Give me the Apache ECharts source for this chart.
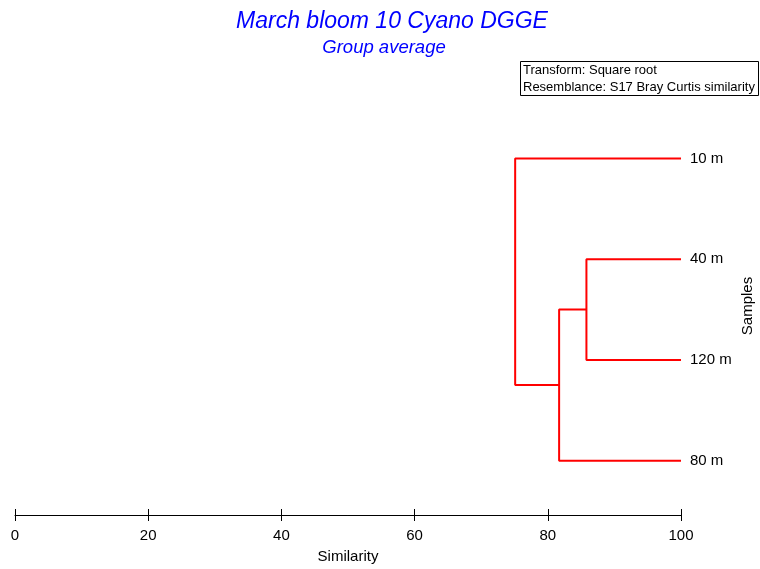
<!DOCTYPE html>
<html><head><meta charset="utf-8">
<script src="https://cdn.jsdelivr.net/npm/echarts@6/dist/echarts.min.js"></script>
<style>html,body{margin:0;padding:0;background:#fff}#c{width:760px;height:569px}</style>
</head><body><div id="c"></div>
<script>
// Leaves (top to bottom), all at similarity 100
var leaves = ['10 m', '40 m', '120 m', '80 m'];
// Merges: node ids 0..3 are leaves, merges get ids 4, 5, 6
var mergeLeft = [1, 4, 0];
var mergeRight = [2, 3, 5];
var mergeSim = [85.8, 81.7, 75.1];
var xTicks = [0, 20, 40, 60, 80, 100];

var nodeX = leaves.map(function(){ return 100; });
var nodeY = leaves.map(function(_, i){ return i; });
var series = [];
for (var m = 0; m < mergeSim.length; m++) {
  var a = mergeLeft[m], b = mergeRight[m], s = mergeSim[m];
  series.push({
    type: 'line', xAxisIndex: 0, yAxisIndex: 0, symbol: 'none', silent: true,
    lineStyle: {color: '#ff0000', width: 2}, animation: false,
    data: [[nodeX[a], nodeY[a]], [s, nodeY[a]], [s, nodeY[b]], [nodeX[b], nodeY[b]]]
  });
  nodeX.push(s);
  nodeY.push((nodeY[a] + nodeY[b]) / 2);
}

var font = '"Liberation Sans", Arial, sans-serif';
var chart = echarts.init(document.getElementById('c'), null, {renderer: 'canvas'});
chart.setOption({
  animation: false,
  grid: {left: 15, right: 79, top: 108, height: 405},
  xAxis: [{
    type: 'value', min: 0, max: 100, interval: 20, position: 'bottom', offset: 4,
    name: 'Similarity', nameLocation: 'middle', nameGap: 34,
    nameTextStyle: {fontFamily: font, fontSize: 15, color: '#000'},
    axisLine: {show: true, onZero: false, lineStyle: {color: '#000', width: 1}},
    axisTick: {show: true, length: 6, lineStyle: {color: '#000'}},
    axisLabel: {fontFamily: font, fontSize: 15, color: '#000', margin: 13,
      formatter: function(v){ return xTicks.indexOf(v) >= 0 ? String(v) : ''; }},
    splitLine: {show: false}
  }, {
    type: 'value', min: 0, max: 100, interval: 20, position: 'bottom', offset: 4,
    axisLine: {show: false, onZero: false},
    axisTick: {show: true, inside: true, length: 6, lineStyle: {color: '#000'}},
    axisLabel: {show: false}, splitLine: {show: false}
  }],
  yAxis: [{
    type: 'value', min: -0.5, max: 3.5, inverse: true, show: false
  }, {
    type: 'category', data: leaves, inverse: true, position: 'right',
    axisLine: {show: false}, axisTick: {show: false}, splitLine: {show: false},
    axisLabel: {fontFamily: font, fontSize: 15, color: '#000', margin: 9, align: 'left'}
  }],
  graphic: [
    {type: 'text', x: 392, y: 22, style: {text: 'March bloom 10 Cyano DGGE', fill: '#0000ff',
      font: 'italic 23px ' + font, textAlign: 'center', textVerticalAlign: 'middle'}},
    {type: 'text', x: 384, y: 48, style: {text: 'Group average', fill: '#0000ff',
      font: 'italic 18.5px ' + font, textAlign: 'center', textVerticalAlign: 'middle'}},
    {type: 'rect', shape: {x: 520.5, y: 61.5, width: 238, height: 34},
      style: {fill: '#fff', stroke: '#000', lineWidth: 1}},
    {type: 'text', x: 523, y: 70, style: {text: 'Transform: Square root', fill: '#000',
      font: '13px ' + font, textAlign: 'left', textVerticalAlign: 'middle'}},
    {type: 'text', x: 523, y: 87, style: {text: 'Resemblance: S17 Bray Curtis similarity', fill: '#000',
      font: '13px ' + font, textAlign: 'left', textVerticalAlign: 'middle'}},
    {type: 'text', x: 748, y: 306, rotation: Math.PI / 2, style: {text: 'Samples', fill: '#000',
      font: '15px ' + font, textAlign: 'center', textVerticalAlign: 'middle'}}
  ],
  series: series
});
</script></body></html>
